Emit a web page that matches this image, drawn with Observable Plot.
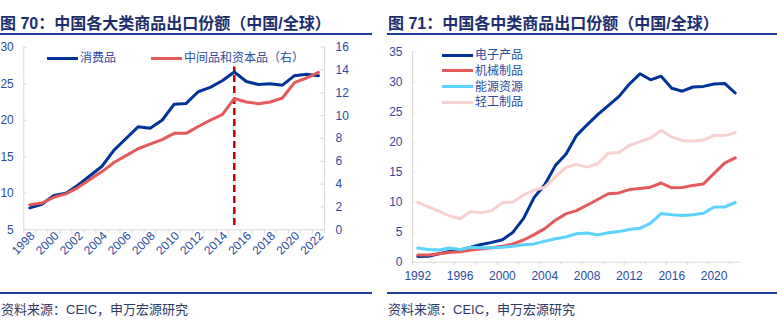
<!DOCTYPE html>
<html><head><meta charset="utf-8">
<script src="https://cdn.jsdelivr.net/npm/d3@7"></script>
<script src="https://cdn.jsdelivr.net/npm/@observablehq/plot@0.6"></script>
<style>
body{margin:0;background:#fff;}
#wrap{position:relative;width:777px;height:331px;overflow:hidden;font-family:"Liberation Sans","Noto Sans CJK SC",sans-serif;}
.title{position:absolute;top:14px;font-size:16px;font-weight:bold;color:#1c2e6e;white-space:nowrap;line-height:20px;}
.hr{position:absolute;height:2px;background:#1f3c99;}
.src{position:absolute;top:301px;font-size:13px;color:#2e3a66;white-space:nowrap;line-height:18px;}
.plot{position:absolute;top:36px;}
.leg{position:absolute;font-size:12px;color:#2b4b9f;white-space:nowrap;line-height:16px;display:flex;align-items:center;}
.leg i{display:inline-block;width:31px;height:3px;margin-right:2px;}
</style></head>
<body>
<div id="wrap">
  <div class="title" style="left:0px">图 70：中国各大类商品出口份额（中国/全球）</div>
  <div class="hr" style="left:0;width:372px;top:33px"></div>
  <div class="title" style="left:388px">图 71：中国各中类商品出口份额（中国/全球）</div>
  <div class="hr" style="left:387px;width:390px;top:33px"></div>
  <div id="left" class="plot" style="left:0"></div>
  <div id="right" class="plot" style="left:386px"></div>
  <div class="hr" style="left:0;width:372px;top:292px"></div>
  <div class="hr" style="left:387px;width:390px;top:292px"></div>
  <div class="src" style="left:1px">资料来源：CEIC，申万宏源研究</div>
  <div class="src" style="left:388px">资料来源：CEIC，申万宏源研究</div>
  <div id="legL"></div>
  <div id="legR"></div>
</div>
<script>
// ---------- Left chart data (图 70) ----------
const leftYears = [1998,1999,2000,2001,2002,2003,2004,2005,2006,2007,2008,2009,2010,2011,2012,2013,2014,2015,2016,2017,2018,2019,2020,2021,2022];
const consumer = [8.0,8.5,9.7,10.0,11.1,12.4,13.7,15.9,17.5,19.1,18.9,20.0,22.2,22.3,23.9,24.5,25.4,26.6,25.3,24.9,25.0,24.8,26.1,26.3,26.1];
const intermediate = [2.2,2.35,2.85,3.15,3.7,4.4,5.1,5.9,6.5,7.1,7.5,7.9,8.45,8.45,9.05,9.6,10.1,11.5,11.2,11.05,11.2,11.55,12.9,13.3,13.8];
const leftTicks = [5,10,15,20,25,30];
const rightTicks = [0,2,4,6,8,10,12,14,16];
const leftLabelYears = [1998,2000,2002,2004,2006,2008,2010,2012,2014,2016,2018,2020,2022];
const markYear = 2015;
const leftNames = ["消费品","中间品和资本品（右）"];

// ---------- Right chart data (图 71) ----------
const rightYears = [1992,1993,1994,1995,1996,1997,1998,1999,2000,2001,2002,2003,2004,2005,2006,2007,2008,2009,2010,2011,2012,2013,2014,2015,2016,2017,2018,2019,2020,2021,2022];
const electronics = [0.95,1.0,1.4,1.8,2.05,2.5,2.95,3.3,3.75,5.0,7.3,10.8,12.9,16.1,18.0,21.1,22.9,24.6,26.1,27.6,29.7,31.4,30.4,31.0,29.0,28.5,29.2,29.3,29.7,29.8,28.2];
const machinery = [1.2,1.2,1.4,1.6,1.75,2.05,2.2,2.4,2.65,3.05,3.7,4.6,5.6,7.0,8.05,8.6,9.5,10.45,11.4,11.55,12.1,12.3,12.5,13.2,12.4,12.45,12.8,13.05,14.8,16.5,17.4];
const energy = [2.35,2.1,2.05,2.35,2.1,2.5,2.4,2.4,2.5,2.65,2.9,3.05,3.5,3.9,4.2,4.75,4.85,4.55,4.9,5.1,5.45,5.65,6.5,8.1,7.9,7.8,7.9,8.15,9.2,9.2,9.95];
const light = [10.0,9.2,8.5,7.7,7.25,8.45,8.25,8.6,9.9,10.05,11.2,12.0,12.5,14.2,15.8,16.3,15.85,16.4,18.15,18.3,19.45,20.1,20.7,21.95,20.85,20.3,20.15,20.35,21.1,21.1,21.6];
const rTicks = [0,5,10,15,20,25,30,35];
const rLabelYears = [1992,1996,2000,2004,2008,2012,2016,2020];
const rightNames = ["电子产品","机械制品","能源资源","轻工制品"];

const BLUE = "#003399", RED = "#E4595A", CYAN = "#5CD2FF", PINK = "#F9D0D0", GRID = "#d9d9d9", TXT = "#2b4b9f";
const FONT = "'Liberation Sans','Noto Sans CJK SC',sans-serif";

// right-axis (0..16) mapped onto left-axis (5..30)
const toL = v => 5 + v * 25 / 16;
const fromL = v => Math.round((v - 5) * 16 / 25);

const left = Plot.plot({
  width: 372, height: 255,
  marginTop: 10.7, marginLeft: 23.3, marginRight: 48, marginBottom: 61.7,
  x: {domain: [1998, 2023]},
  y: {domain: [5, 30]},
  style: {fontFamily: FONT, fontSize: "12px", color: TXT, background: "transparent", overflow: "visible"},
  marks: [
    Plot.ruleY([5], {stroke: GRID}),
    Plot.ruleX([1998, 2023], {stroke: GRID}),
    Plot.ruleY(leftTicks, {x1: 1998, x2: 1998.3, stroke: GRID}),
    Plot.ruleY(rightTicks.map(toL), {x1: 2022.7, x2: 2023, stroke: GRID}),
    Plot.axisY({ticks: leftTicks, anchor: "left", tickSize: 0, tickPadding: 10, label: null}),
    Plot.axisY({ticks: rightTicks.map(toL), tickFormat: fromL, anchor: "right", tickSize: 0, tickPadding: 11, label: null}),
    Plot.axisX({ticks: d3.range(1998, 2024), tickSize: 4, tickFormat: () => "", stroke: GRID, label: null}),
    Plot.axisX({ticks: leftLabelYears, tickFormat: d => String(d), tickSize: 0, tickRotate: -45, tickPadding: 4, dx: 9, label: null}),
    Plot.ruleX([markYear], {x: d => d + 0.5, y1: 5.6, y2: 27.3, stroke: "#C00000", strokeWidth: 2.5, strokeDasharray: "7,4"}),
    Plot.line(leftYears, {x: leftYears.map(d => d + 0.5), y: consumer, stroke: BLUE, strokeWidth: 3}),
    Plot.line(leftYears, {x: leftYears.map(d => d + 0.5), y: intermediate.map(toL), stroke: RED, strokeWidth: 3})
  ]
});
document.getElementById("left").append(left);

const right = Plot.plot({
  width: 391, height: 256,
  marginTop: 15.7, marginLeft: 26, marginRight: 37, marginBottom: 30.3,
  x: {domain: [1991.5, 2022.5]},
  y: {domain: [0, 35]},
  style: {fontFamily: FONT, fontSize: "12px", color: TXT, background: "transparent", overflow: "visible"},
  marks: [
    Plot.ruleX([1991.5], {stroke: GRID}),
    Plot.ruleY([0], {stroke: GRID}),
    Plot.ruleY(rTicks, {x1: 1991.5, x2: 1991.75, stroke: GRID}),
    Plot.axisY({ticks: rTicks, anchor: "left", tickSize: 0, tickPadding: 10, label: null}),
    Plot.axisX({ticks: d3.range(1991.5, 2023, 2), tickSize: 3, tickFormat: () => "", stroke: GRID, label: null}),
    Plot.axisX({ticks: rLabelYears, tickFormat: d => String(d), tickSize: 0, tickPadding: 9, label: null}),
    Plot.line(rightYears, {x: rightYears, y: electronics, stroke: BLUE, strokeWidth: 3}),
    Plot.line(rightYears, {x: rightYears, y: machinery, stroke: RED, strokeWidth: 3}),
    Plot.line(rightYears, {x: rightYears, y: energy, stroke: CYAN, strokeWidth: 3}),
    Plot.line(rightYears, {x: rightYears, y: light, stroke: PINK, strokeWidth: 3})
  ]
});
document.getElementById("right").append(right);

// legends (HTML)
function legend(container, name, color, x, y) {
  const d = document.createElement("div");
  d.className = "leg";
  d.style.left = x + "px";
  d.style.top = (y - 8) + "px";
  d.innerHTML = `<i style="background:${color}"></i>${name}`;
  container.append(d);
}
const legL = document.getElementById("legL");
legend(legL, leftNames[0], BLUE, 47, 58);
legend(legL, leftNames[1], RED, 151, 58);
const legR = document.getElementById("legR");
[BLUE, RED, CYAN, PINK].forEach((c, i) => legend(legR, rightNames[i], c, 442, 55 + i * 15.8));
</script>
</body></html>
